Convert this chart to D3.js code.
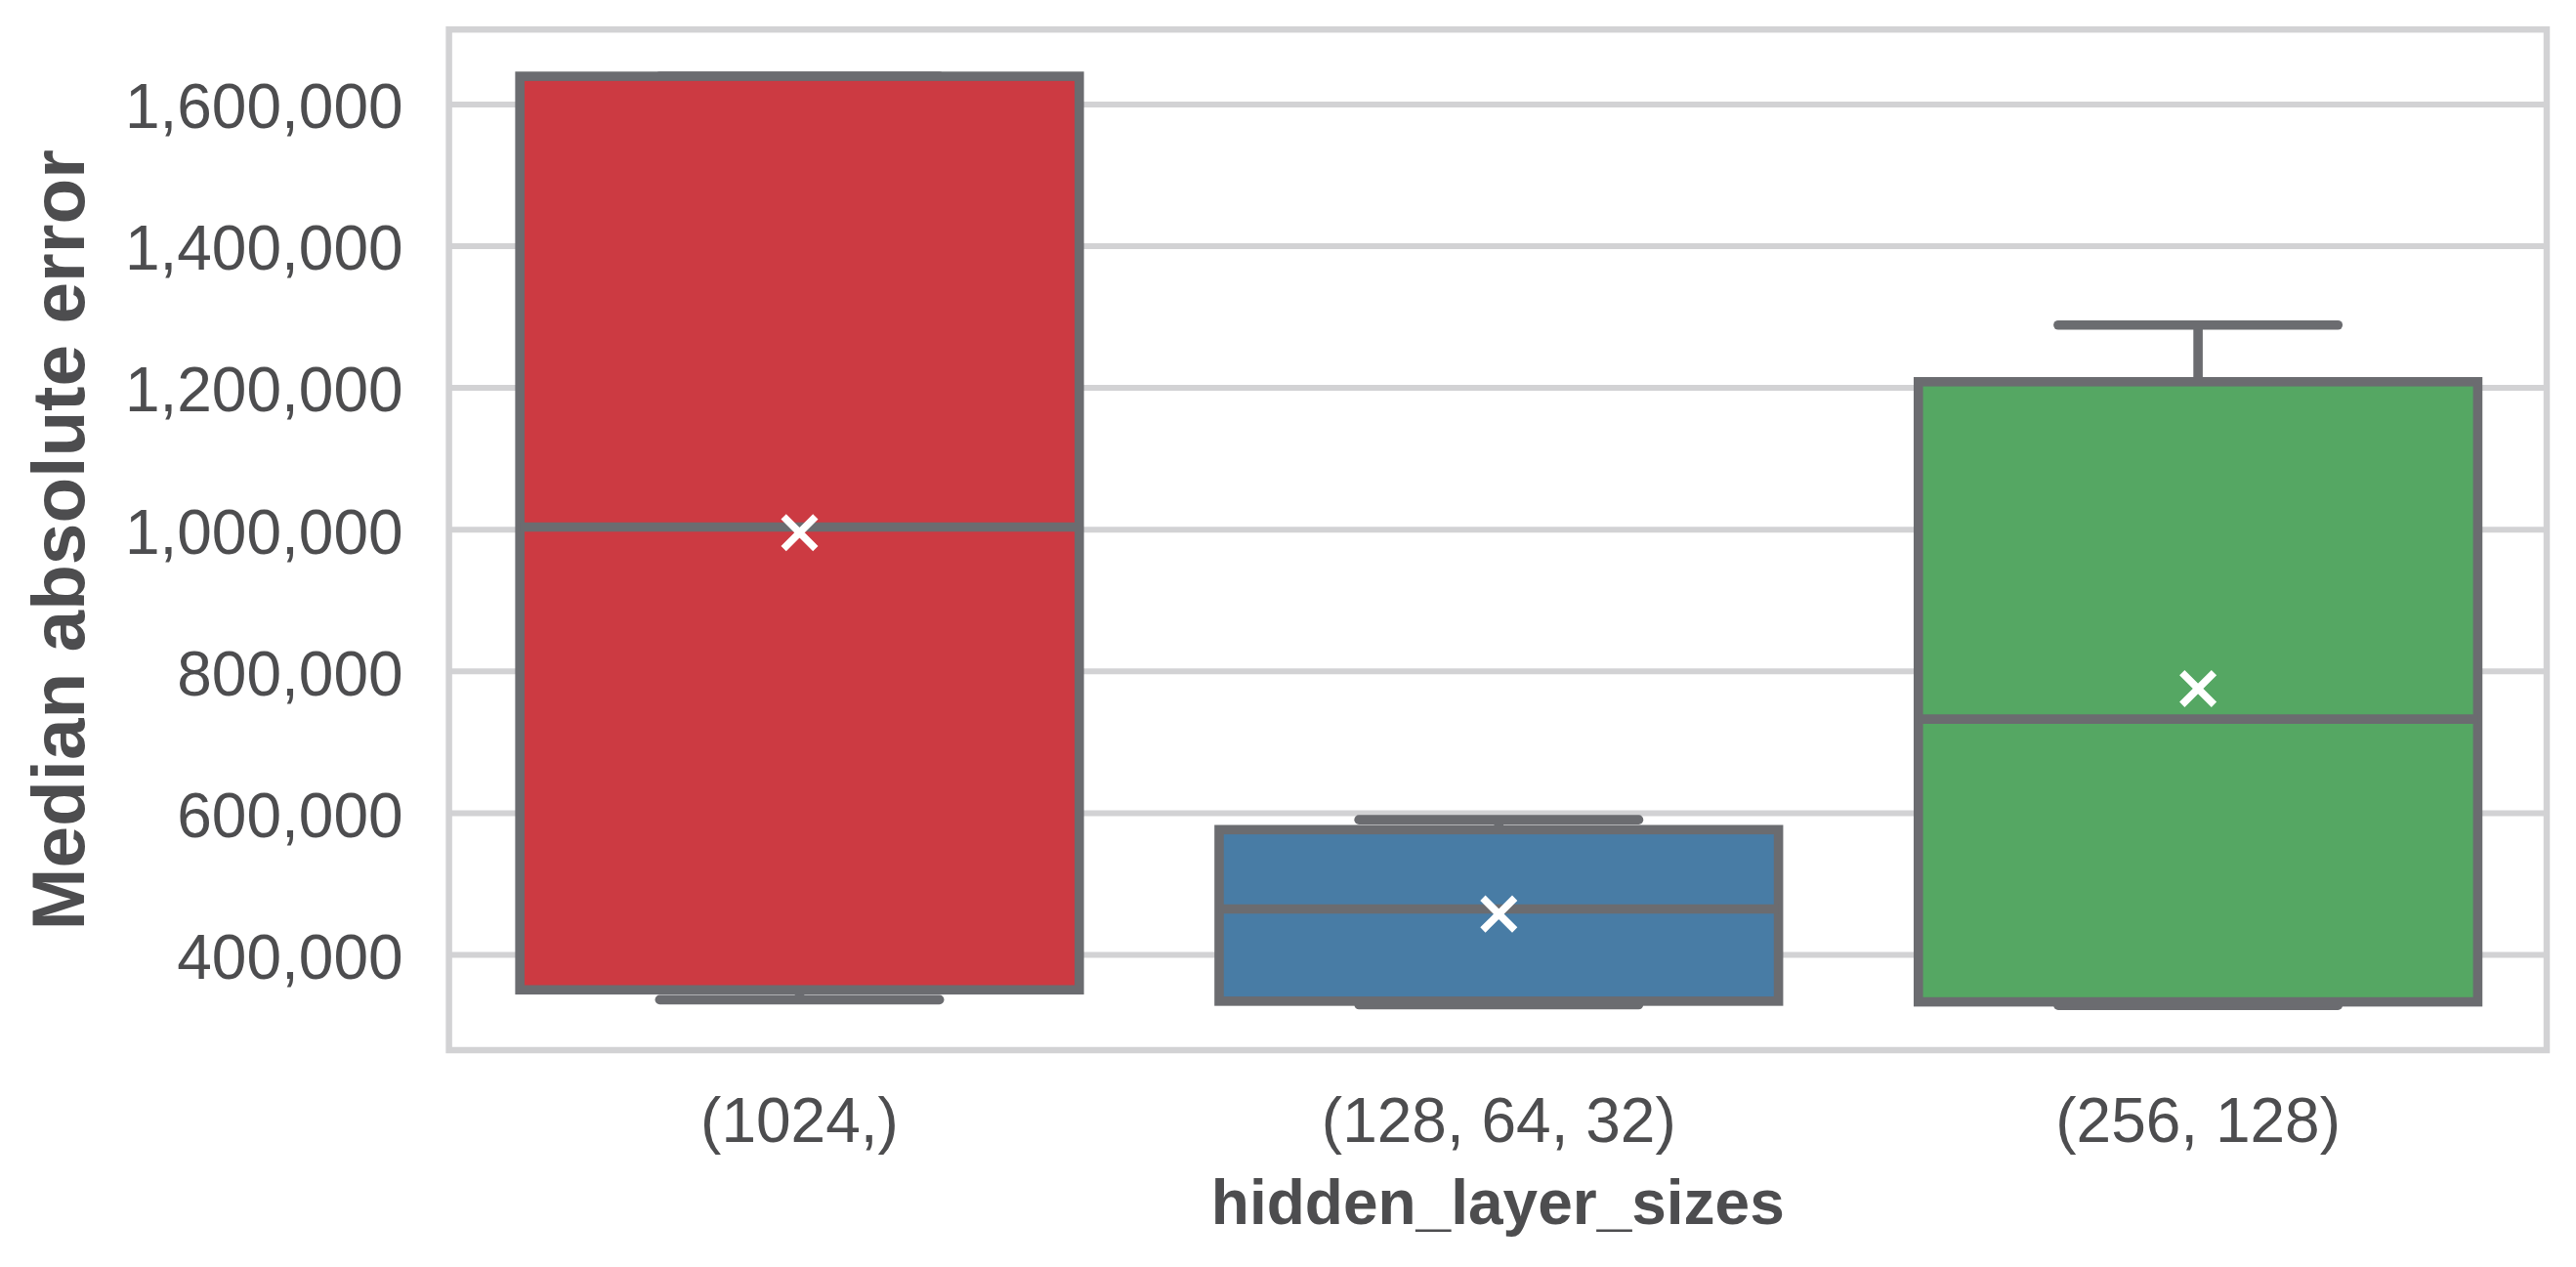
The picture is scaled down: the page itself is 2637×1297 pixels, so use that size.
<!DOCTYPE html>
<html>
<head>
<meta charset="utf-8">
<script src="https://cdn.jsdelivr.net/npm/d3@7"></script>
<style>
  body { margin: 0; background: #ffffff; }
</style>
</head>
<body>
<div id="chart"></div>
<script>
// Box statistics per hidden_layer_sizes setting
const categories = ["(1024,)", "(128, 64, 32)", "(256, 128)"];
const whiskerLow = [336000, 329000, 328000];
const q1 = [350000, 334000, 333000];
const median = [1003000, 464000, 732000];
const q3 = [1639000, 576000, 1208000];
const whiskerHigh = [1639000, 590000, 1288000];
const mean = [995000, 457000, 775000];
const boxColors = ["#cc3a42", "#487ca5", "#55a763"];
const yTicks = [400000, 600000, 800000, 1000000, 1200000, 1400000, 1600000];

/**
 * Proportions of the SVG
 */
let svgWidth = 2637;
let svgHeight = 1297;

let plotLeft = 459.6;
let plotRight = 2607;
let plotTop = 30.2;
let plotBottom = 1075;

let lineColor = "#6b6c70";
let gridColor = "#d2d2d4";
let textColor = "#4d4d4f";
let lineWidth = 9.6;
let fontSize = 64;

const rows = categories.map((c, i) => ({
    cat: c,
    lo: whiskerLow[i],
    q1: q1[i],
    med: median[i],
    q3: q3[i],
    hi: whiskerHigh[i],
    mean: mean[i],
    color: boxColors[i]
}));

const svg = d3.select("#chart")
    .append("svg")
    .attr("width", svgWidth)
    .attr("height", svgHeight)
    .style("display", "block")
    .style("font-family", "'Liberation Sans', Arial, sans-serif");

const x = d3.scaleBand()
    .domain(categories)
    .range([plotLeft, plotRight])
    .padding(0);

const y = d3.scaleLinear()
    .domain([264900, 1705000])
    .range([plotBottom, plotTop]);

let boxWidth = 0.8 * x.bandwidth();
let capWidth = 0.5 * boxWidth;

// grid
const grid = svg.append("g")
    .attr("transform", `translate(${plotLeft},0)`)
    .call(d3.axisLeft(y).tickValues(yTicks).tickSize(-(plotRight - plotLeft)).tickFormat(""));
grid.select(".domain").remove();
grid.selectAll("line")
    .attr("stroke", gridColor)
    .attr("stroke-width", 6);

// frame
svg.append("rect")
    .attr("x", plotLeft)
    .attr("y", plotTop)
    .attr("width", plotRight - plotLeft)
    .attr("height", plotBottom - plotTop)
    .attr("fill", "none")
    .attr("stroke", gridColor)
    .attr("stroke-width", 6.5);

// boxes
const boxes = svg.selectAll(".box")
    .data(rows)
    .enter()
    .append("g")
    .attr("class", "box")
    .attr("transform", d => `translate(${x(d.cat) + x.bandwidth() / 2 + 1},0)`);

// whiskers
boxes.append("line")
    .attr("x1", 0).attr("x2", 0)
    .attr("y1", d => y(d.q3)).attr("y2", d => y(d.hi))
    .attr("stroke", lineColor).attr("stroke-width", lineWidth);
boxes.append("line")
    .attr("x1", 0).attr("x2", 0)
    .attr("y1", d => y(d.q1)).attr("y2", d => y(d.lo))
    .attr("stroke", lineColor).attr("stroke-width", lineWidth);

// caps
boxes.selectAll(".cap")
    .data(d => [d.lo, d.hi])
    .enter()
    .append("line")
    .attr("class", "cap")
    .attr("x1", -capWidth / 2).attr("x2", capWidth / 2)
    .attr("y1", v => y(v)).attr("y2", v => y(v))
    .attr("stroke", lineColor)
    .attr("stroke-width", lineWidth)
    .attr("stroke-linecap", "round");

boxes.append("rect")
    .attr("x", -boxWidth / 2)
    .attr("y", d => y(d.q3))
    .attr("width", boxWidth)
    .attr("height", d => y(d.q1) - y(d.q3))
    .attr("fill", d => d.color)
    .attr("stroke", lineColor)
    .attr("stroke-width", lineWidth);

// median
boxes.append("line")
    .attr("x1", -boxWidth / 2).attr("x2", boxWidth / 2)
    .attr("y1", d => y(d.med)).attr("y2", d => y(d.med))
    .attr("stroke", lineColor)
    .attr("stroke-width", lineWidth);

// mean marker
boxes.append("path")
    .attr("transform", d => `translate(0,${y(d.mean)})`)
    .attr("d", d3.symbol(d3.symbolX, 700))
    .attr("fill", "none")
    .attr("stroke", "#ffffff")
    .attr("stroke-width", 7.5);

// y axis labels
const yAxis = svg.append("g")
    .attr("transform", `translate(${plotLeft},0)`)
    .call(d3.axisLeft(y).tickValues(yTicks).tickSize(0).tickPadding(47).tickFormat(d3.format(",")));
yAxis.select(".domain").remove();
yAxis.selectAll("text")
    .attr("dy", "0.38em")
    .attr("fill", textColor)
    .attr("font-size", fontSize)
    .attr("font-family", "'Liberation Sans', Arial, sans-serif");

// x axis labels
const xAxis = svg.append("g")
    .attr("transform", `translate(1,${plotBottom})`)
    .call(d3.axisBottom(x).tickSize(0).tickPadding(49));
xAxis.select(".domain").remove();
xAxis.selectAll("text")
    .attr("fill", textColor)
    .attr("font-size", fontSize)
    .attr("font-family", "'Liberation Sans', Arial, sans-serif");

// axis titles
svg.append("text")
    .attr("x", (plotLeft + plotRight) / 2)
    .attr("y", 1253.3)
    .attr("text-anchor", "middle")
    .attr("font-size", fontSize)
    .attr("font-weight", "bold")
    .attr("fill", textColor)
    .text("hidden_layer_sizes");

svg.append("text")
    .attr("transform", `translate(86,${(plotTop + plotBottom) / 2}) rotate(-90)`)
    .attr("text-anchor", "middle")
    .attr("font-size", 76.5)
    .attr("font-weight", "bold")
    .attr("fill", textColor)
    .text("Median absolute error");
</script>
</body>
</html>
